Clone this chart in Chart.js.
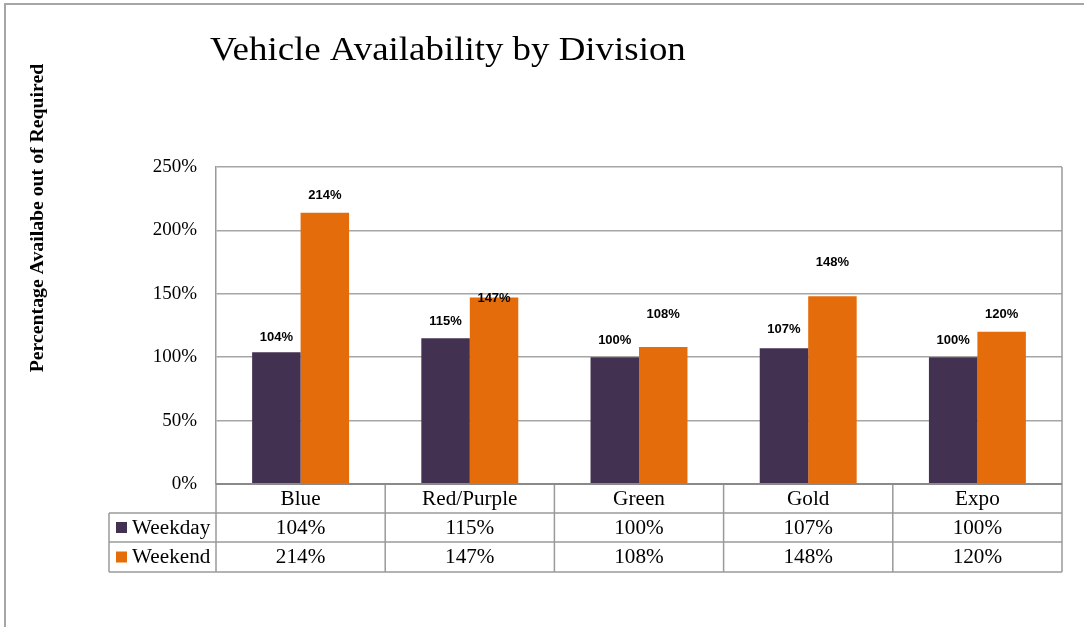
<!DOCTYPE html>
<html><head><meta charset="utf-8">
<script src="https://cdn.jsdelivr.net/npm/chart.js@4.4.1/dist/chart.umd.min.js"></script>
<style>html,body{margin:0;padding:0;background:#fff;}#wrap{position:relative;width:1084px;height:627px;overflow:hidden}</style>
</head><body><div id="wrap"><canvas id="c" width="1084" height="627"></canvas></div>
<script>
const categories = ['Blue', 'Red/Purple', 'Green', 'Gold', 'Expo'];
const weekday = [104, 115, 100, 107, 100];
const weekend = [214, 147, 108, 148, 120];
const seriesNames = ['Weekday', 'Weekend'];
const yTickValues = [0, 50, 100, 150, 200, 250];
const titleText = 'Vehicle Availability by Division';
const yTitleText = 'Percentage Availabe out of Required';

const SERIF = '"Liberation Serif", "Times New Roman", serif';
const SANS = '"Liberation Sans", Arial, sans-serif';
const seriesColors = ['#433152', '#E46C0A'];
const pct = v => v + '%';

function wideText(ctx, text, x, y, sx) {
  ctx.save();
  ctx.translate(x, y);
  ctx.scale(sx, 1);
  ctx.fillText(text, 0, 0);
  ctx.restore();
}

const deco = {
  id: 'deco',
  beforeDraw(chart) {
    const ctx = chart.ctx;
    ctx.save();
    ctx.fillStyle = '#fff';
    ctx.fillRect(0, 0, chart.width, chart.height);
    ctx.strokeStyle = '#a6a6a6';
    ctx.lineWidth = 2;
    ctx.beginPath();
    ctx.moveTo(5, chart.height); ctx.lineTo(5, 4); ctx.lineTo(chart.width, 4);
    ctx.stroke();
    ctx.restore();
  },
  afterDraw(chart, args, opts) {
    const { ctx, chartArea: ca, scales: { x } } = chart;
    ctx.save();
    // title
    ctx.fillStyle = '#000';
    ctx.font = '33px ' + SERIF;
    ctx.textAlign = 'left';
    ctx.textBaseline = 'alphabetic';
    wideText(ctx, titleText, 210, 60, 1.118);
    // y title
    ctx.save();
    ctx.translate(38, 218);
    ctx.rotate(-Math.PI / 2);
    ctx.font = 'bold 19px ' + SERIF;
    ctx.textAlign = 'center';
    ctx.textBaseline = 'middle';
    wideText(ctx, yTitleText, 0, 0, 1.04);
    ctx.restore();
    // data labels
    ctx.font = 'bold 13px ' + SANS;
    ctx.textAlign = 'center';
    ctx.textBaseline = 'middle';
    chart.data.datasets.forEach((ds, di) => {
      const meta = chart.getDatasetMeta(di);
      meta.data.forEach((el, i) => {
        const lift = opts.lift[di][i];
        ctx.fillText(pct(ds.data[i]), el.x, el.y - lift);
      });
    });
    // table
    const step = x.getPixelForValue(1) - x.getPixelForValue(0);
    const bounds = categories.map((c, i) => x.getPixelForValue(i) - step / 2);
    bounds.push(x.getPixelForValue(categories.length - 1) + step / 2);
    const r0 = ca.bottom, r1 = r0 + 29, r2 = r1 + 29, r3 = r2 + 30;
    const L = 109;
    ctx.strokeStyle = '#9a9a9a';
    ctx.lineWidth = 1.5;
    ctx.beginPath();
    bounds.forEach(b => { ctx.moveTo(b, r0); ctx.lineTo(b, r3); });
    ctx.moveTo(L, r1); ctx.lineTo(L, r3);
    ctx.moveTo(L, r1); ctx.lineTo(ca.right, r1);
    ctx.moveTo(L, r2); ctx.lineTo(ca.right, r2);
    ctx.moveTo(L, r3); ctx.lineTo(ca.right, r3);
    ctx.moveTo(ca.right, ca.top); ctx.lineTo(ca.right, r0);
    ctx.stroke();
    // baseline
    ctx.strokeStyle = '#8a8a8a';
    ctx.lineWidth = 2;
    ctx.beginPath(); ctx.moveTo(ca.left, r0); ctx.lineTo(ca.right, r0); ctx.stroke();
    ctx.fillStyle = '#000';
    ctx.font = '20px ' + SERIF;
    ctx.textAlign = 'center';
    ctx.textBaseline = 'middle';
    const sx = 1.06;
    categories.forEach((c, i) => {
      const cx = x.getPixelForValue(i);
      wideText(ctx, c, cx, (r0 + r1) / 2 + 1, sx);
      wideText(ctx, pct(weekday[i]), cx, (r1 + r2) / 2 + 1, sx);
      wideText(ctx, pct(weekend[i]), cx, (r2 + r3) / 2 + 1, sx);
    });
    // legend keys
    [[r1, r2], [r2, r3]].forEach(([a, b], k) => {
      const cy = (a + b) / 2;
      ctx.fillStyle = seriesColors[k];
      ctx.fillRect(116, cy - 5.5, 11, 11);
      ctx.fillStyle = '#000';
      ctx.textAlign = 'left';
      wideText(ctx, seriesNames[k], 132, cy + 1, sx);
    });
    ctx.restore();
  }
};

new Chart(document.getElementById('c'), {
  type: 'bar',
  data: {
    labels: categories,
    datasets: [
      { label: seriesNames[0], data: weekday, backgroundColor: seriesColors[0] },
      { label: seriesNames[1], data: weekend, backgroundColor: seriesColors[1] }
    ]
  },
  options: {
    responsive: false,
    animation: false,
    events: [],
    layout: { padding: { left: 0, top: 167, right: 22, bottom: 143 } },
    datasets: { bar: { categoryPercentage: 0.573, barPercentage: 1.0, borderWidth: 0 } },
    plugins: {
      legend: { display: false },
      title: { display: false },
      tooltip: { enabled: false },
      deco: { lift: [[15, 17, 17, 19, 17], [17, -1, 33, 34, 17]] }
    },
    scales: {
      x: { display: false },
      y: {
        min: 0, max: 250,
        afterBuildTicks(scale) { scale.ticks = yTickValues.map(v => ({ value: v })); },
        afterFit(scale) { scale.width = 216; },
        ticks: { callback: v => pct(v), font: { family: SERIF, size: 19 }, color: '#000', padding: 19 },
        grid: { color: '#a6a6a6', lineWidth: 1.5, drawTicks: false },
        border: { display: true, color: '#9a9a9a', width: 1.5 }
      }
    }
  },
  plugins: [deco]
});
</script>
</body></html>
